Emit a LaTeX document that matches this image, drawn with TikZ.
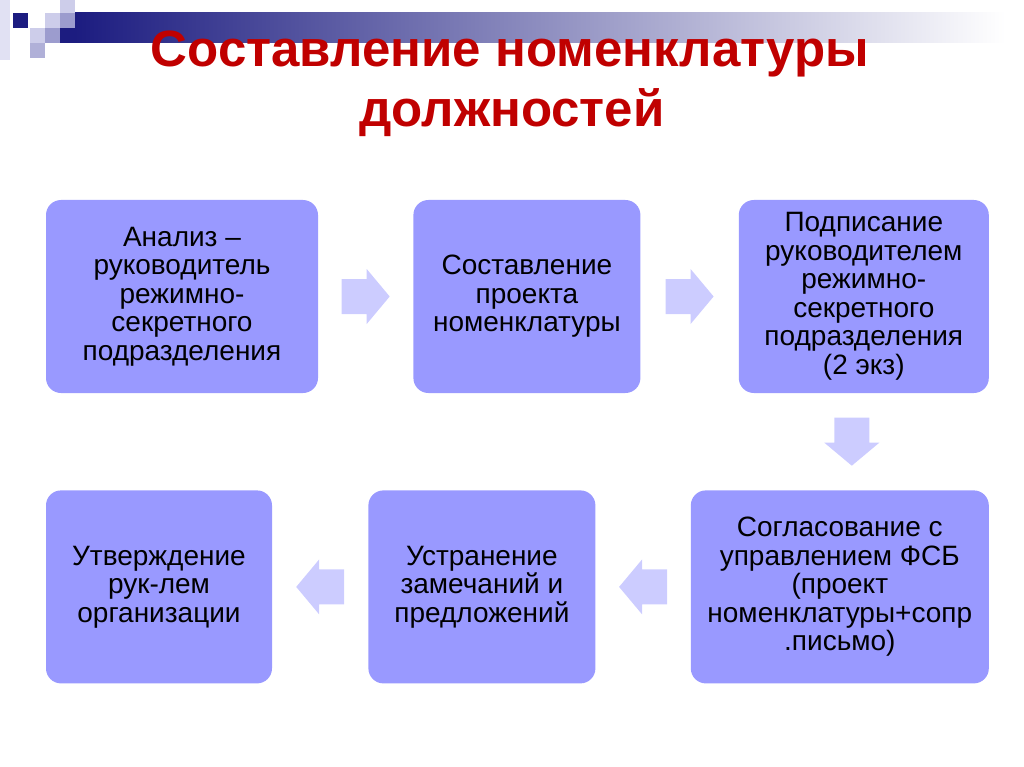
\documentclass[tikz,border=0pt]{standalone}
\usepackage{fontspec}
\setmainfont{Liberation Sans}
\usetikzlibrary{positioning,calc}
\definecolor{boxfill}{HTML}{9999FF}
\definecolor{arrowfill}{HTML}{CCCCFF}
\definecolor{titlered}{HTML}{C00000}
\definecolor{navy}{HTML}{1C1C80}
\definecolor{midblue}{HTML}{9C9CCE}
\definecolor{paleblue}{HTML}{CDCDEA}

\begin{document}
\begin{tikzpicture}[x=1pt, y=-1pt, node distance=97pt and 95pt,
  box/.style={fill=boxfill, rounded corners=15pt, align=center, inner sep=0pt, minimum height=193pt, font=\fontsize{28}{28.5}\selectfont},
  title/.style={text=titlered, font=\fontsize{51}{60}\selectfont\bfseries, anchor=base, inner sep=0pt},
  blockarrow/.pic={\fill[arrowfill] (-24,-17.5) -- (1,-17.5) -- (1,-27.5) -- (24,0) -- (1,27.5) -- (1,17.5) -- (-24,17.5) -- cycle;}]
\useasboundingbox (0,0) rectangle (1024,767);
% corner decoration and bar
\shade[left color=navy, right color=white] (75,13) rectangle (1005,43);
\fill[paleblue!60] (0,0) rectangle (10,60);
\fill[navy] (13,13) rectangle (28,28);
\fill[paleblue] (45,13) rectangle (60,28);
\fill[paleblue] (60,0) rectangle (75,13);
\fill[midblue] (60,13) rectangle (75,28);
\fill[paleblue] (30,28) rectangle (45,43);
\fill[midblue] (45,28) rectangle (60,43);
\fill[navy] (60,28) rectangle (75,43);
\fill[midblue!80] (30,43) rectangle (45,58);
% title
\node[title] (title) at (510,67) {Составление номенклатуры};
\node[title] (title2) at (512,127) {должностей};
% boxes
\node[box, minimum width=272pt] (n1) at (182,296.5) {Анализ –\\руководитель\\режимно-\\секретного\\подразделения};
\node[box, minimum width=227pt, right=of n1] (n2) {Составление\\проекта\\номенклатуры};
\node[box, minimum width=250pt, right=98pt of n2] (n3) {Подписание\\руководителем\\режимно-\\секретного\\подразделения\\(2 экз)};
\node[box, minimum width=298pt, below=of n3.south east, anchor=north east] (n4) {Согласование с\\управлением ФСБ\\(проект\\номенклатуры+сопр\\.письмо)};
\node[box, minimum width=227pt, left=of n4] (n5) {Устранение\\замечаний и\\предложений};
\node[box, minimum width=226pt, left=96pt of n5] (n6) {Утверждение\\рук-лем\\организации};
% arrows
\pic at ($(n1.east)!0.5!(n2.west)$) {blockarrow};
\pic at ($(n2.east)!0.5!(n3.west)$) {blockarrow};
\pic[rotate=-90] at ($(n3.south)!0.5!(n4.north)$) {blockarrow};
\pic[rotate=180] at ($(n4.west)!0.5!(n5.east)$) {blockarrow};
\pic[rotate=180] at ($(n5.west)!0.5!(n6.east)$) {blockarrow};
\end{tikzpicture}
\end{document}
